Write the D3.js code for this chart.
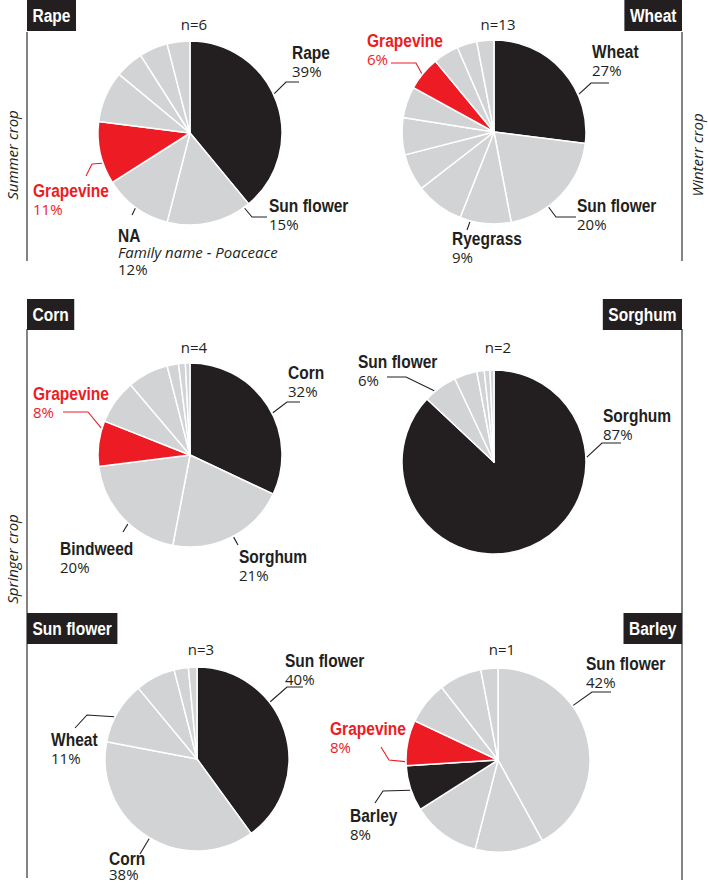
<!DOCTYPE html>
<html>
<head>
<meta charset="utf-8">
<script src="https://cdn.jsdelivr.net/npm/d3@7"></script>
<style>
  body { margin: 0; background: #fff; }
  svg { display: block; }
</style>
</head>
<body>
<script>
// values (share of each weed / crop, %)
var panelTitles = ["Rape", "Wheat", "Corn", "Sorghum", "Sun flower", "Barley"];
var sampleSizes = [6, 13, 4, 2, 3, 1];
var sideLabels = ["Summer crop", "Winterr crop", "Springer crop"];

var rapeNames  = ["Rape", "Sun flower", "NA", "Grapevine", "", "", "", ""];
var rapeShares = [39, 15, 12, 11, 9, 5, 5, 4];

var wheatNames  = ["Wheat", "Sun flower", "Ryegrass", "", "", "", "", "Grapevine", "", "", ""];
var wheatShares = [27, 20, 9, 8.5, 6.5, 6.5, 5.5, 6, 4.5, 3.5, 3];

var cornNames  = ["Corn", "Sorghum", "Bindweed", "Grapevine", "", "", "", "", ""];
var cornShares = [32, 21, 20, 8, 7.8, 7.2, 2, 1.2, 0.8];

var sorghumNames  = ["Sorghum", "Sun flower", "", "", "", ""];
var sorghumShares = [87, 6, 4, 1.3, 1, 0.7];

var sunflowerNames  = ["Sun flower", "Corn", "Wheat", "", "", ""];
var sunflowerShares = [40, 38, 11, 7, 2.5, 1.5];

var barleyNames  = ["Sun flower", "", "", "Barley", "Grapevine", "", "", ""];
var barleyShares = [42, 12, 12, 8, 8, 7.5, 7.5, 3];

var naSubtitle = "Family name - Poaceace";

var BLACK = "#231f20", GREY = "#d1d3d4", RED = "#ed1c24", RULE = "#5a5a5c";
var boldFont = "'Liberation Sans', Arial, sans-serif";
var textFont = "'Open Sans', 'Noto Sans', sans-serif";
var SQUEEZE = 0.84; // no condensed bold installed, so narrow the bold face by hand
var R = 92;

// layout: pie centres, n labels, title box side, label placement (relative to centre)
var layout = [
  {names: rapeNames, shares: rapeShares, cx: 190, cy: 133, ny: 30, side: "left", boxY: 0,
   labels: {
     "Rape":       {a: 65,  pts: [[96, -51], [109, -51]], tx: 102, ty: -74},
     "Sun flower": {a: 144, pts: [[62, 84], [77, 84]], tx: 79, ty: 79},
     "NA":         {a: 216, pts: [[-58, 82]], tx: -72, ty: 109},
     "Grapevine":  {a: 251, pts: [[-98, 31], [-104, 43]], tx: -157, ty: 64}
   }},
  {names: wheatNames, shares: wheatShares, cx: 494, cy: 132, ny: 29.5, side: "right", boxY: 0,
   labels: {
     "Wheat":      {a: 66,  pts: [[97, -49], [115, -49]], tx: 98, ty: -74},
     "Sun flower": {a: 144, pts: [[62, 85], [82, 85]], tx: 83, ty: 80},
     "Ryegrass":   {a: 195, pts: [[-27, 98]], tx: -42, ty: 113},
     "Grapevine":  {a: 309, pts: [[-78, -69], [-103, -69]], tx: -127, ty: -85}
   }},
  {names: cornNames, shares: cornShares, cx: 190, cy: 455, ny: 353, side: "left", boxY: 299,
   labels: {
     "Corn":       {a: 63,  pts: [[97, -53], [110, -53]], tx: 98, ty: -76},
     "Sorghum":    {a: 152, pts: [[48, 90]], tx: 49, ty: 108},
     "Bindweed":   {a: 222, pts: [[-67, 77]], tx: -130, ty: 100},
     "Grapevine":  {a: 287, pts: [[-102, -43], [-127, -43]], tx: -157, ty: -55}
   }},
  {names: sorghumNames, shares: sorghumShares, cx: 494, cy: 462, ny: 353, side: "right", boxY: 299,
   labels: {
     "Sorghum":    {a: 87,  pts: [[108, -19], [127, -19]], tx: 109, ty: -40},
     "Sun flower": {a: 320, pts: [[-88, -85], [-107, -85]], tx: -136, ty: -94}
   }},
  {names: sunflowerNames, shares: sunflowerShares, cx: 197, cy: 759, ny: 655, side: "left", boxY: 613,
   labels: {
     "Sun flower": {a: 52,  pts: [[90, -72], [106, -72]], tx: 88, ty: -92},
     "Corn":       {a: 211, pts: [[-57, 95]], tx: -88, ty: 106},
     "Wheat":      {a: 297, pts: [[-110, -44], [-122, -31]], tx: -146, ty: -13}
   }},
  {names: barleyNames, shares: barleyShares, cx: 498, cy: 760, ny: 655, side: "right", boxY: 613,
   labels: {
     "Sun flower": {a: 54,  pts: [[94, -68], [113, -68]], tx: 88, ty: -90},
     "Grapevine":  {a: 269, pts: [[-109, 0], [-117, -13]], tx: -168, ty: -25},
     "Barley":     {a: 251, pts: [[-115, 31], [-123, 43]], tx: -148, ty: 62}
   }}
];

var svg = d3.select("body").append("svg")
    .attr("width", 708)
    .attr("height", 884);

function boldText(parent, x, y, txt, fill) {
    return parent.append("text")
        .attr("transform", "translate(" + x + "," + y + ") scale(" + SQUEEZE + ",1)")
        .style("font-family", boldFont)
        .style("font-weight", "bold")
        .style("font-size", "18.5px")
        .attr("fill", fill)
        .text(txt);
}

// frame rules on the left and right
var rules = [[27, 32, 261], [27, 329, 878], [682, 32, 261], [682, 329, 880]];
svg.selectAll("line.rule")
    .data(rules)
    .join("line")
    .attr("class", "rule")
    .attr("x1", d => d[0]).attr("x2", d => d[0])
    .attr("y1", d => d[1]).attr("y2", d => d[2])
    .attr("stroke", RULE)
    .attr("stroke-width", 1.5);

// side labels
var sidePos = [[12, 155], [697, 155], [12, 559]];
sideLabels.forEach(function (t, i) {
    svg.append("text")
        .attr("transform", "translate(" + sidePos[i][0] + "," + sidePos[i][1] + ") rotate(-90)")
        .attr("text-anchor", "middle")
        .attr("dominant-baseline", "central")
        .style("font-family", textFont)
        .style("font-style", "italic")
        .style("font-size", "15px")
        .attr("fill", BLACK)
        .text(t);
});

var pie = d3.pie().sort(null).value(d => d.value);
var arc = d3.arc().innerRadius(0).outerRadius(R);

layout.forEach(function (p, i) {
    var title = panelTitles[i];
    var data = p.names.map((n, j) => ({name: n, value: p.shares[j]}));

    // title box
    var box = svg.append("g");
    var rect = box.append("rect");
    var bt = boldText(box, 0, p.boxY + 22, title, "#fff");
    var bw = bt.node().getComputedTextLength() * SQUEEZE + 11;
    var bx = p.side === "left" ? 27 : 682 - bw;
    rect.attr("x", bx).attr("y", p.boxY)
        .attr("width", bw).attr("height", 31)
        .attr("fill", BLACK);
    bt.attr("transform", "translate(" + (bx + 5.5) + "," + (p.boxY + 22) + ") scale(" + SQUEEZE + ",1)");

    var g = svg.append("g").attr("transform", "translate(" + p.cx + "," + p.cy + ")");

    g.selectAll("path.slice")
        .data(pie(data))
        .join("path")
        .attr("class", "slice")
        .attr("d", arc)
        .attr("fill", function (d) {
            if (d.data.name === title) return BLACK;
            if (d.data.name === "Grapevine") return RED;
            return GREY;
        })
        .attr("stroke", "#fff")
        .attr("stroke-width", 1.5)
        .attr("stroke-linejoin", "round");

    // n label
    svg.append("text")
        .attr("x", p.cx + 4)
        .attr("y", p.ny)
        .attr("text-anchor", "middle")
        .style("font-family", textFont)
        .style("font-size", "15px")
        .attr("fill", BLACK)
        .text("n=" + sampleSizes[i]);

    // labels with leader lines
    data.forEach(function (d) {
        var L = p.labels[d.name];
        if (!L) return;
        var col = d.name === "Grapevine" ? RED : BLACK;
        var start = d3.pointRadial(L.a * Math.PI / 180, R + 1);
        g.append("path")
            .attr("d", d3.line()([start].concat(L.pts)))
            .attr("fill", "none")
            .attr("stroke", col)
            .attr("stroke-width", 1.1);

        boldText(g, L.tx, L.ty, d.name, col);
        var py = L.ty + 18;
        if (d.name === "NA") {
            g.append("text")
                .attr("x", L.tx).attr("y", L.ty + 16)
                .style("font-family", textFont)
                .style("font-style", "italic")
                .style("font-size", "15px")
                .attr("fill", BLACK)
                .text(naSubtitle);
            py = L.ty + 33;
        }
        g.append("text")
            .attr("x", L.tx).attr("y", Math.min(py, 880 - p.cy))
            .style("font-family", textFont)
            .style("font-size", "15px")
            .attr("fill", col)
            .text(Math.round(d.value) + "%");
    });
});
</script>
</body>
</html>
